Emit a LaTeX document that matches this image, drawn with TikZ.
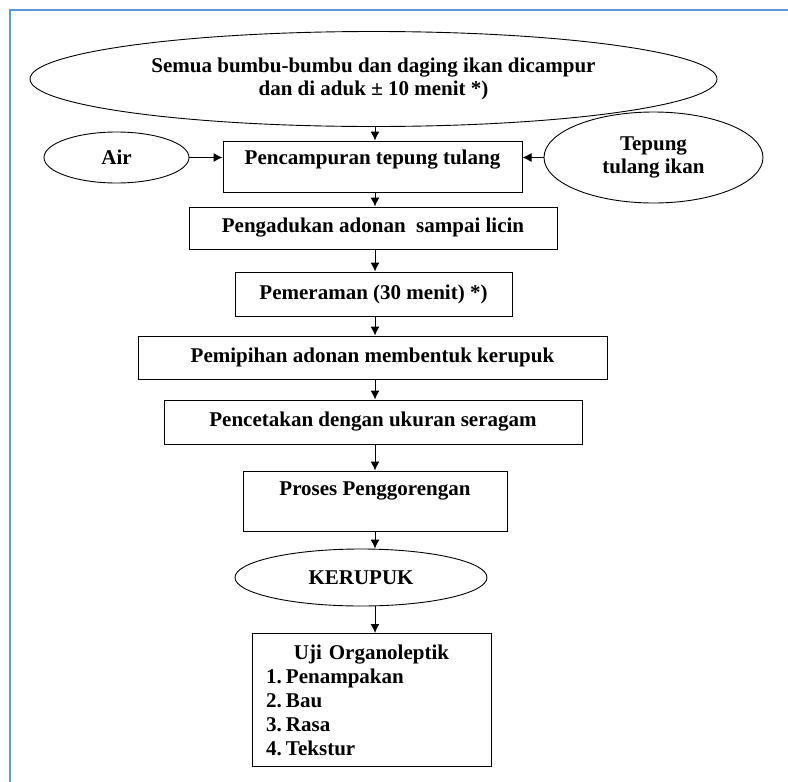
\documentclass[tikz,border=0pt]{standalone}
\usepackage{fontspec}
\setmainfont{Liberation Serif}
\usetikzlibrary{arrows.meta,shapes.geometric,positioning}
\definecolor{frameblue}{RGB}{91,155,213}

\begin{document}
\begin{tikzpicture}[x=1pt,y=-1pt,->,>={Latex[length=9pt,width=9pt]},line width=1pt,
		font=\bfseries\fontsize{21}{23.5}\selectfont,
		box/.style={draw,rectangle,inner sep=0pt},
		oval/.style={draw,ellipse,inner sep=0pt,align=center,line width=0.9pt}]
			\useasboundingbox (0,0) rectangle (788,782);
			\draw [-,frameblue,line width=2pt] (10,782) -- (10,10) -- (788,10);
			\coordinate (spine) at (375,0);

			\node	[oval,minimum width=687,minimum height=95]	(mix0)	at (373.5,79)	{Semua bumbu-bumbu dan daging ikan dicampur\\dan di aduk ± 10 menit *)};
			\node	[oval,minimum width=145,minimum height=51]	(air)	at (116.5,157.5)	{Air};
			\node	[oval,minimum width=219,minimum height=91]	(tepung)	at (653.5,157.5)	{Tepung\\tulang ikan};
			\node	[box,minimum width=299,minimum height=51,text depth=19]	(mix)	at (372.5,166.5)	{Pencampuran tepung tulang};
			\node	[box,minimum width=368,minimum height=42]	(aduk)	at (373,228)	{Pengadukan adonan\ \ sampai licin};
			\node	[box,minimum width=277,minimum height=44]	(peram)	at (373.5,294)	{Pemeraman (30 menit) *)};
			\node	[box,minimum width=469,minimum height=43]	(pipih)	at (372.5,357.5)	{Pemipihan adonan membentuk kerupuk};
			\node	[box,minimum width=418,minimum height=44]	(cetak)	at (373,422)	{Pencetakan dengan ukuran seragam};
			\node	[box,minimum width=264,minimum height=60,text depth=24]	(goreng)	at (375,501)	{Proses Penggorengan};
			\node	[oval,minimum width=252,minimum height=57]	(kerupuk)	at (361,577.5)	{KERUPUK};
			\node	[box,anchor=north,inner xsep=14pt,inner ysep=11pt,text width=211pt,align=left,
					font=\bfseries\fontsize{21}{24}\selectfont]	(uji)	at (371.5,633)
				{\hfil Uji Organoleptik\hfil\\
				\makebox[20pt][l]{1.}Penampakan\\
				\makebox[20pt][l]{2.}Bau\\
				\makebox[20pt][l]{3.}Rasa\\
				\makebox[20pt][l]{4.}Tekstur};

			\path
				(air.east)	edge	(air.east -| mix.west)
				(tepung.west)	edge	(tepung.west -| mix.east)
				(mix0.south -| spine)	edge	(mix.north -| spine)
				(mix.south -| spine)	edge	(aduk.north -| spine)
				(aduk.south -| spine)	edge	(peram.north -| spine)
				(peram.south -| spine)	edge	(pipih.north -| spine)
				(pipih.south -| spine)	edge	(cetak.north -| spine)
				(cetak.south -| spine)	edge	(goreng.north -| spine)
				(goreng.south -| spine)	edge	(kerupuk.north -| spine)
				(kerupuk.south -| spine)	edge	(uji.north -| spine)
			;
\end{tikzpicture}
\end{document}
